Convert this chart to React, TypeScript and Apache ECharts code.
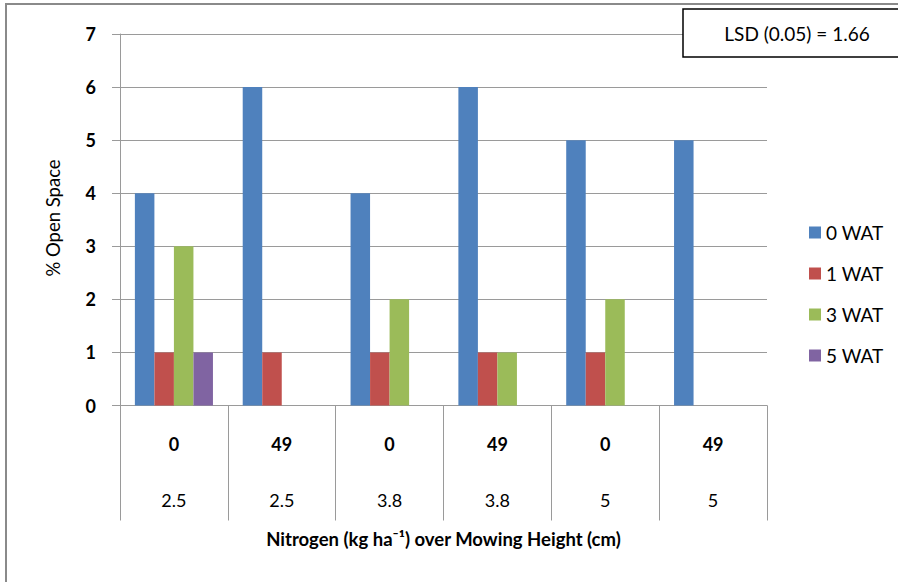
import React, { useEffect, useRef } from "react";
import * as echarts from "echarts";

const nitrogen = ["0", "49", "0", "49", "0", "49"];
const mowingHeight = ["2.5", "2.5", "3.8", "3.8", "5", "5"];
const seriesNames = ["0 WAT", "1 WAT", "3 WAT", "5 WAT"];
const wat0 = [4, 6, 4, 6, 5, 5];
const wat1 = [1, 1, 1, 1, 1, 0];
const wat3 = [3, 0, 2, 1, 2, 0];
const wat5 = [1, 0, 0, 0, 0, 0];
const yTicks = [0, 1, 2, 3, 4, 5, 6, 7];
const colors = ["#4F81BD", "#C0504D", "#9BBB59", "#8064A2"];

const FONT = "Lato, 'Open Sans', sans-serif";

export default function App() {
  const ref = useRef<HTMLDivElement>(null);
  useEffect(() => {
    document.body.style.margin = "0";
    if (!ref.current) return;
    const chart = echarts.init(ref.current, undefined, { renderer: "svg" });
    const categories = nitrogen.map((n, i) => n + "|" + mowingHeight[i]);
    const values = [wat0, wat1, wat3, wat5];
    chart.setOption({
      animation: false,
      backgroundColor: "#ffffff",
      textStyle: { fontFamily: FONT },
      grid: { left: 120, right: 131, top: 34, height: 371.5 },
      legend: {
        orient: "vertical",
        left: 804,
        top: 218,
        itemWidth: 12,
        itemHeight: 12,
        itemGap: 22,
        icon: "rect",
        data: seriesNames,
        textStyle: { fontSize: 19, lineHeight: 19, color: "#000", fontFamily: FONT },
      },
      xAxis: {
        type: "category",
        data: categories,
        name: "Nitrogen (kg ha⁻¹) over Mowing Height (cm)",
        nameLocation: "middle",
        nameGap: 124,
        nameTextStyle: { fontSize: 18.5, fontWeight: "bold", color: "#000", fontFamily: FONT },
        axisLine: { show: true, lineStyle: { color: "#9a9a9a", width: 1 } },
        axisTick: { show: true, length: 115, interval: 0, lineStyle: { color: "#9a9a9a" } },
        axisLabel: {
          interval: 0,
          margin: 10,
          formatter: (v: string) => {
            const [a, b] = v.split("|");
            return "{a|" + a + "}\n{b|" + b + "}";
          },
          rich: {
            a: { fontSize: 18, fontWeight: "bold", lineHeight: 56, color: "#000", fontFamily: FONT },
            b: { fontSize: 18, fontWeight: "normal", lineHeight: 56, color: "#000", fontFamily: FONT },
          },
        },
      },
      yAxis: {
        type: "value",
        min: yTicks[0],
        max: yTicks[yTicks.length - 1],
        interval: 1,
        axisLine: { show: true, lineStyle: { color: "#9a9a9a" } },
        axisTick: { show: true, length: 8, lineStyle: { color: "#9a9a9a" } },
        axisLabel: { margin: 24, fontSize: 18, fontWeight: "bold", color: "#000", fontFamily: FONT },
        splitLine: { show: true, lineStyle: { color: "#9a9a9a", width: 1 } },
      },
      series: seriesNames.map((name, i) => ({
        name,
        type: "bar",
        data: values[i],
        barGap: "0%",
        barCategoryGap: "27.6%",
        itemStyle: { color: colors[i] },
      })),
      graphic: [
        {
          type: "rect",
          shape: { x: 6, y: 4, width: 910, height: 600 },
          style: { fill: "none", stroke: "#8a8a8a", lineWidth: 2 },
          silent: true,
        },
        {
          type: "text",
          x: 53,
          y: 218,
          rotation: Math.PI / 2,
          style: {
            text: "% Open Space",
            fontSize: 18.5,
            fontFamily: FONT,
            fill: "#000",
            align: "center",
            verticalAlign: "middle",
          },
        },
        {
          type: "rect",
          shape: { x: 683, y: 9, width: 228, height: 48 },
          style: { fill: "#ffffff", stroke: "#000000", lineWidth: 1.5 },
          z: 10,
        },
        {
          type: "text",
          x: 797,
          y: 33,
          z: 11,
          style: {
            text: "LSD (0.05) = 1.66",
            fontSize: 19,
            fontFamily: FONT,
            fill: "#000",
            align: "center",
            verticalAlign: "middle",
          },
        },
      ],
    });
    return () => chart.dispose();
  }, []);
  return <div ref={ref} style={{ width: 898, height: 582 }} />;
}
